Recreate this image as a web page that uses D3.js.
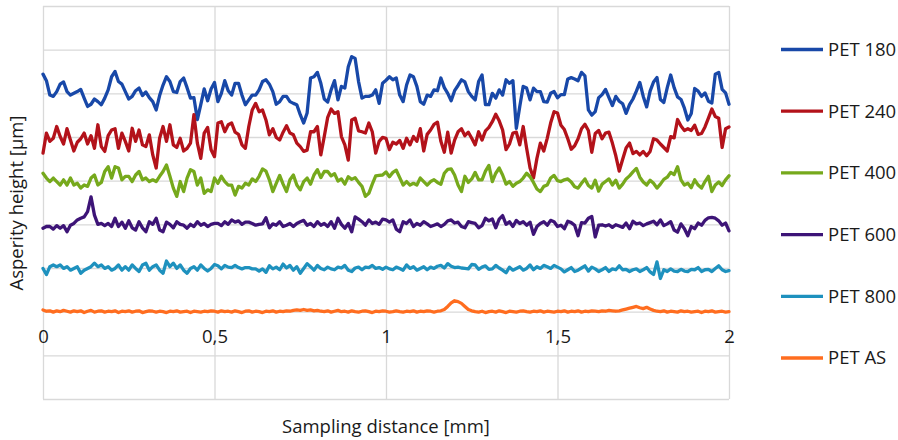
<!DOCTYPE html>
<html lang="en">
<head>
  <meta charset="UTF-8">
  <title>Asperity height profiles</title>
  <script src="https://d3js.org/d3.v7.min.js"></script>
  <style>
    body {
      margin: 0;
      background: #ffffff;
      font-family: "Open Sans", sans-serif;
    }

    .grid line {
      stroke: #d9d9d9;
      stroke-width: 1.3px;
    }

    .grid path {
      stroke: none;
    }

    .x-axis path,
    .x-axis line {
      stroke: none;
    }

    .x-axis text,
    .axis-label,
    .legend text {
      font-family: "Open Sans", sans-serif;
      font-size: 18.5px;
      fill: #1a1a1a;
    }

    .series {
      fill: none;
      stroke-width: 3.3px;
      stroke-linejoin: round;
      stroke-linecap: round;
    }
  </style>
</head>
<body>
  <svg width="898" height="440"></svg>
  <script>
    // Sampling step along the profile [mm]
    const step = 0.01;

    const seriesNames = ["PET 180", "PET 240", "PET 400", "PET 600", "PET 800", "PET AS"];
    const seriesColors = ["#1848a8", "#b3121a", "#76a91c", "#3d1477", "#1e91be", "#ff6d1f"];

    const pet180 = [
      5.44, 5.29, 4.96, 4.93, 5.04, 5.21, 5.26, 5.04, 4.96, 5.00,
      5.04, 5.09, 4.89, 4.70, 4.75, 4.87, 4.81, 4.74, 4.89, 5.08,
      5.38, 5.50, 5.27, 5.21, 5.04, 4.87, 4.93, 5.06, 5.12, 4.95,
      5.03, 4.90, 4.81, 4.62, 4.95, 5.19, 5.38, 5.27, 5.04, 5.02,
      5.27, 5.35, 5.13, 4.89, 4.90, 4.40, 4.74, 5.10, 4.83, 5.10,
      5.25, 4.81, 5.00, 5.29, 5.06, 4.96, 5.23, 5.23, 4.96, 4.74,
      4.85, 4.96, 4.96, 5.08, 5.27, 5.31, 5.21, 5.04, 4.75, 4.81,
      4.93, 4.93, 4.81, 4.77, 4.74, 4.51, 4.32, 4.55, 5.35, 5.38,
      5.48, 5.23, 4.87, 4.80, 5.08, 5.29, 4.85, 5.16, 5.12, 5.61,
      5.84, 5.80, 5.27, 4.89, 4.93, 4.93, 4.96, 5.08, 4.77, 5.23,
      5.30, 5.38, 5.31, 5.35, 4.96, 4.81, 5.19, 5.42, 5.38, 5.16,
      4.81, 4.75, 4.96, 4.93, 5.08, 5.06, 5.35, 5.13, 5.00, 4.83,
      5.06, 5.18, 5.31, 5.26, 5.04, 4.93, 4.85, 5.27, 5.42, 4.74,
      4.74, 5.00, 4.89, 5.08, 4.96, 5.31, 5.23, 5.29, 4.20, 4.70,
      5.16, 5.12, 4.85, 5.12, 5.04, 5.04, 4.81, 4.80, 5.00, 5.04,
      4.90, 4.97, 4.97, 5.33, 5.36, 5.33, 5.29, 5.48, 5.40, 4.62,
      4.50, 4.58, 4.90, 4.97, 5.09, 4.90, 4.72, 4.93, 4.82, 4.76,
      4.54, 4.74, 4.87, 5.05, 5.25, 4.93, 4.69, 5.05, 5.26, 5.36,
      4.86, 4.79, 5.13, 5.42, 5.13, 4.92, 4.86, 4.66, 4.39, 4.54,
      5.11, 5.05, 4.93, 5.01, 4.82, 4.78, 5.44, 5.48, 5.09, 5.01,
      4.75];

    const pet240 = [
      3.63, 4.09, 3.90, 3.97, 4.24, 4.01, 3.84, 4.19, 3.93, 3.68,
      3.88, 3.96, 4.09, 3.84, 4.03, 3.74, 4.28, 3.78, 3.67, 4.03,
      4.16, 4.19, 3.74, 4.09, 3.90, 3.68, 4.20, 3.90, 4.16, 3.82,
      3.78, 4.05, 3.59, 3.29, 3.97, 4.24, 3.90, 4.28, 3.82, 3.76,
      3.97, 3.68, 3.74, 3.86, 4.51, 3.86, 3.51, 4.09, 4.22, 3.71,
      3.55, 4.32, 4.35, 4.12, 4.28, 4.32, 4.11, 4.06, 3.82, 3.74,
      4.24, 4.62, 4.77, 4.58, 4.62, 4.39, 4.05, 4.19, 3.99, 3.93,
      4.11, 4.26, 4.09, 4.05, 3.86, 3.78, 3.67, 3.70, 4.12, 4.12,
      4.24, 3.59, 4.01, 4.45, 4.64, 4.54, 4.58, 4.01, 3.82, 3.47,
      4.39, 4.43, 4.14, 4.12, 4.09, 4.32, 4.12, 3.63, 3.90, 3.99,
      3.97, 3.71, 3.88, 3.84, 3.92, 3.74, 3.97, 3.82, 4.01, 3.90,
      4.19, 3.68, 4.06, 4.16, 4.29, 4.34, 3.90, 3.65, 4.11, 3.63,
      3.93, 4.12, 4.19, 4.03, 4.11, 3.97, 3.82, 4.12, 3.93, 4.14,
      4.22, 4.35, 4.52, 4.37, 4.16, 3.71, 3.84, 4.09, 4.11, 3.82,
      4.24, 3.74, 3.29, 3.06, 3.51, 3.86, 3.68, 3.97, 4.32, 4.58,
      4.55, 4.27, 4.17, 3.96, 3.72, 3.80, 3.96, 4.19, 4.29, 4.15,
      3.65, 4.08, 4.15, 3.96, 4.09, 4.11, 3.86, 3.57, 3.22, 3.49,
      3.75, 3.86, 3.62, 3.67, 3.59, 3.67, 3.57, 3.67, 3.96, 3.93,
      3.84, 3.76, 3.68, 4.01, 3.98, 4.40, 4.25, 4.15, 4.19, 4.15,
      4.27, 4.06, 4.08, 4.23, 4.43, 4.64, 4.47, 4.43, 3.76, 4.19,
      4.23];

    const pet400 = [
      3.17, 3.06, 2.98, 3.06, 2.98, 2.90, 3.02, 2.90, 3.06, 2.90,
      2.94, 2.83, 2.90, 2.87, 3.06, 3.13, 2.90, 2.96, 3.21, 3.32,
      3.06, 3.32, 3.29, 3.02, 3.10, 3.10, 2.98, 3.13, 3.21, 3.02,
      3.06, 2.98, 3.02, 2.98, 3.10, 3.21, 3.36, 3.10, 2.83, 2.64,
      2.98, 2.75, 3.06, 3.25, 3.21, 2.90, 3.06, 2.71, 2.79, 2.75,
      3.06, 2.94, 3.10, 2.98, 2.90, 2.90, 2.67, 2.87, 2.83, 2.94,
      2.90, 3.04, 2.98, 3.10, 3.27, 3.22, 3.02, 2.75, 2.94, 3.12,
      2.92, 2.75, 3.02, 3.13, 2.90, 2.79, 2.98, 3.06, 2.92, 3.13,
      3.25, 3.07, 3.21, 3.21, 3.11, 3.16, 2.99, 3.04, 2.92, 3.09,
      3.03, 3.07, 2.96, 2.87, 2.64, 2.71, 2.92, 3.11, 3.12, 3.13,
      3.20, 3.09, 3.19, 3.24, 3.07, 2.90, 2.98, 2.90, 2.94, 2.90,
      3.06, 2.98, 2.90, 2.98, 3.02, 2.96, 2.92, 3.17, 3.26, 3.27,
      3.13, 2.90, 2.75, 3.10, 2.96, 3.04, 3.19, 3.02, 3.02, 3.22,
      3.35, 2.98, 3.17, 3.29, 3.13, 2.92, 2.98, 2.87, 2.94, 2.98,
      3.06, 3.17, 3.09, 2.96, 2.81, 2.75, 2.87, 2.90, 3.06, 3.12,
      3.00, 2.98, 3.02, 3.04, 2.97, 2.86, 2.83, 2.94, 3.04, 2.89,
      2.83, 3.01, 2.76, 2.92, 2.98, 3.04, 2.90, 3.01, 2.83, 2.92,
      3.04, 3.11, 3.20, 3.28, 3.08, 2.97, 2.90, 3.01, 2.94, 2.83,
      2.92, 3.03, 3.08, 3.19, 3.14, 3.32, 3.02, 2.90, 2.94, 2.84,
      3.02, 2.90, 2.83, 2.98, 3.10, 2.75, 2.90, 2.97, 2.89, 3.02,
      3.11];

    const pet600 = [
      1.91, 1.95, 1.95, 1.89, 1.97, 1.91, 1.97, 1.83, 1.98, 2.02,
      2.10, 2.14, 2.17, 2.29, 2.63, 2.21, 2.00, 2.02, 1.97, 2.02,
      1.95, 2.14, 1.95, 2.05, 1.91, 2.08, 1.92, 1.87, 2.06, 1.92,
      1.83, 2.06, 2.00, 2.14, 1.87, 1.83, 2.05, 2.00, 1.92, 2.06,
      2.00, 1.98, 1.91, 2.00, 1.95, 2.06, 1.98, 2.02, 1.95, 2.00,
      2.02, 2.02, 1.97, 2.06, 2.00, 2.10, 2.05, 2.08, 2.00, 2.05,
      2.05, 2.02, 1.98, 2.00, 2.01, 2.15, 1.92, 2.01, 1.98, 2.06,
      1.95, 1.98, 2.02, 1.95, 2.02, 2.06, 2.09, 1.98, 2.02, 1.95,
      2.06, 1.98, 2.02, 1.95, 2.06, 1.91, 2.14, 2.00, 1.91, 2.02,
      1.83, 2.17, 2.12, 2.06, 1.98, 2.10, 2.02, 2.05, 2.00, 2.12,
      2.10, 2.05, 2.10, 1.89, 1.83, 2.06, 2.02, 2.10, 1.95, 2.02,
      1.98, 2.06, 2.01, 1.95, 1.98, 2.01, 1.95, 2.00, 2.08, 2.10,
      2.03, 2.05, 1.95, 1.92, 2.06, 2.04, 2.02, 1.92, 1.97, 2.14,
      2.08, 2.12, 1.92, 2.12, 2.20, 2.00, 2.06, 1.95, 2.09, 2.02,
      2.06, 1.98, 2.05, 1.77, 1.95, 2.02, 2.06, 1.98, 2.09, 2.06,
      1.95, 1.98, 1.90, 2.07, 2.04, 1.98, 1.74, 2.04, 2.03, 2.14,
      2.18, 1.71, 1.98, 1.99, 1.96, 1.99, 1.93, 1.99, 1.96, 1.93,
      2.03, 1.90, 2.07, 2.01, 2.03, 1.97, 2.01, 2.04, 2.07, 1.99,
      2.10, 1.97, 2.01, 2.06, 1.87, 1.82, 2.01, 1.90, 1.74, 1.95,
      1.90, 2.03, 1.98, 2.09, 2.15, 2.16, 2.14, 2.08, 1.98, 2.03,
      1.85];

    const pet800 = [
      0.99, 0.85, 1.03, 1.07, 1.03, 1.07, 0.99, 1.03, 0.95, 0.99,
      1.03, 0.88, 0.95, 0.99, 1.03, 1.11, 1.03, 1.07, 0.99, 1.03,
      0.95, 0.99, 1.07, 0.95, 1.03, 0.95, 1.07, 0.99, 0.92, 1.07,
      1.11, 0.95, 1.03, 1.07, 0.95, 0.88, 1.16, 1.03, 1.11, 0.99,
      1.07, 0.95, 0.88, 0.99, 1.03, 0.95, 1.07, 0.99, 0.93, 0.99,
      1.08, 1.05, 0.98, 1.06, 1.02, 1.01, 1.06, 1.01, 0.98, 1.01,
      1.01, 0.98, 0.98, 0.93, 0.98, 0.90, 1.05, 0.98, 1.02, 0.96,
      1.09, 1.00, 1.06, 0.95, 1.03, 0.88, 0.99, 1.10, 1.03, 0.95,
      1.06, 0.99, 0.96, 1.02, 0.98, 0.96, 1.02, 1.00, 1.06, 0.95,
      0.92, 1.00, 1.02, 0.96, 1.02, 1.01, 1.06, 0.99, 1.01, 0.97,
      1.02, 0.98, 0.96, 1.02, 0.99, 0.95, 1.07, 0.99, 1.03, 0.95,
      0.99, 1.03, 0.96, 1.02, 0.99, 1.04, 1.06, 1.00, 1.10, 1.04,
      1.01, 1.02, 1.00, 0.99, 0.98, 1.08, 1.07, 0.97, 1.02, 1.05,
      0.97, 0.98, 1.06, 1.00, 0.95, 0.89, 1.02, 0.95, 0.99, 1.03,
      0.95, 0.99, 1.07, 0.96, 1.03, 0.99, 1.06, 1.03, 0.99, 1.06,
      1.02, 0.98, 0.91, 0.96, 1.01, 0.92, 0.95, 1.00, 1.05, 0.93,
      1.02, 0.98, 0.92, 0.96, 1.01, 0.92, 0.98, 0.96, 1.05, 0.96,
      0.97, 0.92, 0.96, 0.98, 0.92, 0.96, 1.01, 0.91, 0.85, 1.14,
      0.76, 0.96, 0.92, 0.98, 0.93, 0.92, 0.97, 0.93, 0.92, 0.97,
      0.96, 1.01, 0.92, 0.96, 0.97, 0.92, 0.99, 1.05, 0.96, 0.92,
      0.94];

    const petAS = [
      0.04, 0.01, 0.02, -0.01, 0.02, 0.00, 0.03, 0.01, -0.01, 0.02,
      0.00, 0.02, -0.02, 0.01, 0.03, -0.01, 0.01, 0.02, -0.01, 0.01,
      0.00, 0.02, -0.02, 0.01, 0.00, 0.02, -0.01, 0.01, 0.02, -0.02,
      0.00, 0.02, 0.01, -0.01, 0.01, 0.00, -0.02, 0.01, 0.00, 0.02,
      -0.01, 0.00, 0.01, -0.02, 0.01, 0.00, -0.01, 0.01, 0.00, 0.02,
      0.01, -0.01, 0.02, 0.00, 0.01, -0.01, 0.02, 0.00, -0.02, 0.01,
      0.02, -0.01, 0.01, 0.00, -0.02, 0.01, 0.00, 0.02, -0.01, 0.01,
      0.00, 0.02, 0.01, 0.03, 0.04, 0.03, 0.05, 0.03, 0.04, 0.02,
      0.03, 0.01, 0.00, 0.02, -0.01, 0.01, 0.03, 0.00, 0.01, -0.01,
      0.02, 0.00, -0.01, 0.01, 0.02, 0.00, -0.02, 0.01, 0.00, 0.02,
      0.01, -0.01, 0.00, 0.02, 0.00, -0.01, 0.01, 0.00, 0.02, -0.01,
      0.01, 0.00, 0.02, 0.01, -0.01, 0.01, 0.02, 0.05, 0.12, 0.20,
      0.25, 0.23, 0.19, 0.12, 0.05, 0.02, 0.00, -0.01, 0.01, -0.02,
      0.00, 0.01, -0.01, 0.02, 0.00, -0.02, 0.01, 0.00, -0.01, 0.01,
      0.02, 0.00, -0.01, 0.01, 0.00, 0.02, -0.01, 0.01, 0.00, -0.01,
      0.01, 0.00, 0.02, -0.01, 0.01, 0.00, 0.02, -0.01, 0.01, 0.00,
      0.02, 0.01, 0.00, 0.02, 0.01, 0.03, 0.02, 0.01, 0.02, 0.04,
      0.06, 0.08, 0.10, 0.12, 0.09, 0.07, 0.10, 0.06, 0.03, 0.01,
      0.00, 0.02, -0.01, 0.01, 0.00, -0.01, 0.02, 0.00, 0.01, -0.01,
      0.00, 0.01, -0.02, 0.01, 0.00, 0.02, -0.01, 0.00, 0.01, -0.01,
      0.00];

    const xTicks = [0, 0.5, 1, 1.5, 2];
    const yTicks = [-2, -1, 0, 1, 2, 3, 4, 5, 6, 7];

    const allSeries = [pet180, pet240, pet400, pet600, pet800, petAS];

    // Plot area
    const margin = { top: 6, right: 169, bottom: 41, left: 43 };
    const width = 898 - margin.left - margin.right;
    const height = 440 - margin.top - margin.bottom;

    const svg = d3.select("svg");
    const chart = svg.append("g")
      .attr("transform", `translate(${margin.left},${margin.top})`);

    const x = d3.scaleLinear().domain([0, 2]).range([0, width]);
    const y = d3.scaleLinear().domain([-2, 7]).range([height, 0]);

    // Gridlines
    chart.append("g")
      .attr("class", "grid")
      .call(d3.axisLeft(y).tickValues(yTicks).tickSize(-width).tickFormat(""));

    chart.append("g")
      .attr("class", "grid")
      .attr("transform", `translate(0,${height})`)
      .call(d3.axisBottom(x).tickValues(xTicks).tickSize(-height).tickFormat(""));

    // X tick labels sit below the zero line
    chart.append("g")
      .attr("class", "x-axis")
      .attr("transform", `translate(0,${y(0)})`)
      .call(d3.axisBottom(x).tickValues(xTicks).tickSize(0).tickPadding(18)
        .tickFormat(d => String(d).replace(".", ",")));

    // Profiles
    const line = d3.line()
      .x((d, i) => x(i * step))
      .y(d => y(d));

    chart.selectAll(".series")
      .data(allSeries)
      .enter()
      .append("path")
      .attr("class", "series")
      .attr("stroke", (d, i) => seriesColors[i])
      .attr("d", line);

    // Axis titles
    svg.append("text")
      .attr("class", "axis-label")
      .attr("x", margin.left + width / 2)
      .attr("y", 433)
      .attr("text-anchor", "middle")
      .text("Sampling distance [mm]");

    svg.append("text")
      .attr("class", "axis-label")
      .attr("transform", "translate(23,203) rotate(-90)")
      .attr("text-anchor", "middle")
      .text("Asperity height [µm]");

    // Legend
    const legend = svg.append("g")
      .attr("class", "legend")
      .attr("transform", "translate(781,49.5)");

    const item = legend.selectAll("g")
      .data(seriesNames)
      .enter()
      .append("g")
      .attr("transform", (d, i) => `translate(0,${i * 61.7})`);

    item.append("line")
      .attr("x1", 0)
      .attr("x2", 42)
      .attr("stroke", (d, i) => seriesColors[i])
      .attr("stroke-width", 3.3);

    item.append("text")
      .attr("x", 47)
      .attr("dy", "0.35em")
      .text(d => d);
  </script>
</body>
</html>
